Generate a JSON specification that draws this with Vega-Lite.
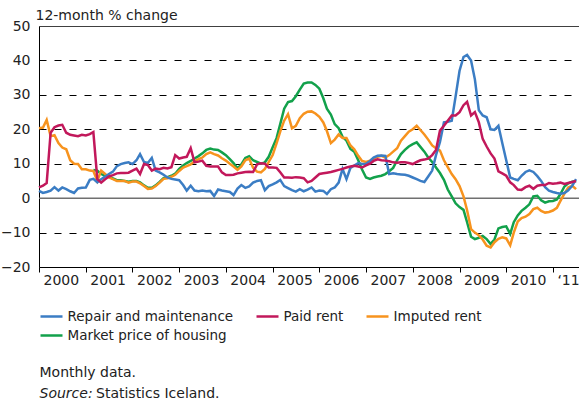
{
"$schema":"https://vega.github.io/schema/vega-lite/v6.json",
"width":540,"height":241,
"autosize":{"type":"none"},
"padding":{"left":39,"top":26,"right":0,"bottom":137},
"background":"white",
"config":{"view":{"stroke":null},"font":"DejaVu Sans",
 "axis":{"labelFont":"DejaVu Sans","titleFont":"DejaVu Sans","labelFontSize":14,"titleFontSize":14,"labelColor":"#222","titleColor":"#222","titleFontWeight":"normal"}},
"title":{"text":"Statistics Iceland.","orient":"bottom","anchor":"start","frame":"group","offset":0,"dx":57,"dy":-3,"baseline":"alphabetic","font":"DejaVu Sans","fontSize":14,"fontWeight":"normal","color":"#222"},
"data":{"values":[
{"s":"M","d":"2001-03","v":8.2},{"s":"M","d":"2001-04","v":8.0},{"s":"M","d":"2001-05","v":7.0},{"s":"M","d":"2001-06","v":6.5},{"s":"M","d":"2001-07","v":6.2},{"s":"M","d":"2001-08","v":5.7},{"s":"M","d":"2001-09","v":5.2},{"s":"M","d":"2001-10","v":5.2},{"s":"M","d":"2001-11","v":5.0},{"s":"M","d":"2001-12","v":4.8},
{"s":"M","d":"2002-01","v":5.0},{"s":"M","d":"2002-02","v":5.0},{"s":"M","d":"2002-03","v":4.6},{"s":"M","d":"2002-04","v":3.7},{"s":"M","d":"2002-05","v":3.0},{"s":"M","d":"2002-06","v":3.0},{"s":"M","d":"2002-07","v":3.7},{"s":"M","d":"2002-08","v":4.7},{"s":"M","d":"2002-09","v":5.8},{"s":"M","d":"2002-10","v":6.1},{"s":"M","d":"2002-11","v":6.5},{"s":"M","d":"2002-12","v":7.1},
{"s":"M","d":"2003-01","v":8.5},{"s":"M","d":"2003-02","v":9.5},{"s":"M","d":"2003-03","v":10.2},{"s":"M","d":"2003-04","v":10.8},{"s":"M","d":"2003-05","v":11.5},{"s":"M","d":"2003-06","v":12.2},{"s":"M","d":"2003-07","v":13.0},{"s":"M","d":"2003-08","v":14.0},{"s":"M","d":"2003-09","v":14.4},{"s":"M","d":"2003-10","v":14.1},{"s":"M","d":"2003-11","v":14.0},{"s":"M","d":"2003-12","v":13.3},
{"s":"M","d":"2004-01","v":12.5},{"s":"M","d":"2004-02","v":11.3},{"s":"M","d":"2004-03","v":10.2},{"s":"M","d":"2004-04","v":8.6},{"s":"M","d":"2004-05","v":9.8},{"s":"M","d":"2004-06","v":11.7},{"s":"M","d":"2004-07","v":12.2},{"s":"M","d":"2004-08","v":11.0},{"s":"M","d":"2004-09","v":10.5},{"s":"M","d":"2004-10","v":10.0},{"s":"M","d":"2004-11","v":10.4},{"s":"M","d":"2004-12","v":12.0},
{"s":"M","d":"2005-01","v":14.8},{"s":"M","d":"2005-02","v":17.5},{"s":"M","d":"2005-03","v":21.5},{"s":"M","d":"2005-04","v":26.0},{"s":"M","d":"2005-05","v":27.9},{"s":"M","d":"2005-06","v":28.2},{"s":"M","d":"2005-07","v":29.6},{"s":"M","d":"2005-08","v":31.5},{"s":"M","d":"2005-09","v":33.3},{"s":"M","d":"2005-10","v":33.6},{"s":"M","d":"2005-11","v":33.6},{"s":"M","d":"2005-12","v":32.9},
{"s":"M","d":"2006-01","v":31.8},{"s":"M","d":"2006-02","v":29.0},{"s":"M","d":"2006-03","v":26.0},{"s":"M","d":"2006-04","v":24.3},{"s":"M","d":"2006-05","v":21.5},{"s":"M","d":"2006-06","v":20.3},{"s":"M","d":"2006-07","v":17.8},{"s":"M","d":"2006-08","v":16.7},{"s":"M","d":"2006-09","v":14.3},{"s":"M","d":"2006-10","v":13.5},{"s":"M","d":"2006-11","v":11.0},{"s":"M","d":"2006-12","v":8.3},
{"s":"M","d":"2007-01","v":6.0},{"s":"M","d":"2007-02","v":5.6},{"s":"M","d":"2007-03","v":6.0},{"s":"M","d":"2007-04","v":6.3},{"s":"M","d":"2007-05","v":6.5},{"s":"M","d":"2007-06","v":7.0},{"s":"M","d":"2007-07","v":7.8},{"s":"M","d":"2007-08","v":8.8},{"s":"M","d":"2007-09","v":11.0},{"s":"M","d":"2007-10","v":12.8},{"s":"M","d":"2007-11","v":14.0},{"s":"M","d":"2007-12","v":15.0},
{"s":"M","d":"2008-01","v":15.7},{"s":"M","d":"2008-02","v":16.2},{"s":"M","d":"2008-03","v":14.9},{"s":"M","d":"2008-04","v":13.5},{"s":"M","d":"2008-05","v":11.8},{"s":"M","d":"2008-06","v":10.5},{"s":"M","d":"2008-07","v":8.9},{"s":"M","d":"2008-08","v":7.3},{"s":"M","d":"2008-09","v":5.3},{"s":"M","d":"2008-10","v":2.5},{"s":"M","d":"2008-11","v":0.5},{"s":"M","d":"2008-12","v":-1.5},
{"s":"M","d":"2009-01","v":-2.6},{"s":"M","d":"2009-02","v":-3.4},{"s":"M","d":"2009-03","v":-7.0},{"s":"M","d":"2009-04","v":-11.2},{"s":"M","d":"2009-05","v":-11.9},{"s":"M","d":"2009-06","v":-11.5},{"s":"M","d":"2009-07","v":-11.0},{"s":"M","d":"2009-08","v":-11.9},{"s":"M","d":"2009-09","v":-13.3},{"s":"M","d":"2009-10","v":-12.0},{"s":"M","d":"2009-11","v":-8.8},{"s":"M","d":"2009-12","v":-8.4},
{"s":"M","d":"2010-01","v":-8.2},{"s":"M","d":"2010-02","v":-10.4},{"s":"M","d":"2010-03","v":-7.0},{"s":"M","d":"2010-04","v":-5.0},{"s":"M","d":"2010-05","v":-3.7},{"s":"M","d":"2010-06","v":-2.8},{"s":"M","d":"2010-07","v":-1.8},{"s":"M","d":"2010-08","v":0.5},{"s":"M","d":"2010-09","v":0.7},{"s":"M","d":"2010-10","v":-0.6},{"s":"M","d":"2010-11","v":-1.3},{"s":"M","d":"2010-12","v":-0.9},
{"s":"M","d":"2011-01","v":-0.8},{"s":"M","d":"2011-02","v":-0.4},{"s":"M","d":"2011-03","v":1.2},{"s":"M","d":"2011-04","v":3.4},{"s":"M","d":"2011-05","v":4.3},{"s":"M","d":"2011-06","v":4.8},{"s":"M","d":"2011-07","v":5.0},
{"s":"I","d":"2000-01","v":20.3},{"s":"I","d":"2000-02","v":20.5},{"s":"I","d":"2000-03","v":22.7},{"s":"I","d":"2000-04","v":18.0},{"s":"I","d":"2000-05","v":18.3},{"s":"I","d":"2000-06","v":16.0},{"s":"I","d":"2000-07","v":14.7},{"s":"I","d":"2000-08","v":14.2},{"s":"I","d":"2000-09","v":11.0},{"s":"I","d":"2000-10","v":10.0},{"s":"I","d":"2000-11","v":9.9},{"s":"I","d":"2000-12","v":8.4},
{"s":"I","d":"2001-01","v":8.4},{"s":"I","d":"2001-02","v":8.0},{"s":"I","d":"2001-03","v":7.9},{"s":"I","d":"2001-04","v":5.0},{"s":"I","d":"2001-05","v":8.0},{"s":"I","d":"2001-06","v":7.0},{"s":"I","d":"2001-07","v":6.0},{"s":"I","d":"2001-08","v":5.5},{"s":"I","d":"2001-09","v":5.0},{"s":"I","d":"2001-10","v":5.0},{"s":"I","d":"2001-11","v":5.0},{"s":"I","d":"2001-12","v":4.5},
{"s":"I","d":"2002-01","v":4.8},{"s":"I","d":"2002-02","v":4.8},{"s":"I","d":"2002-03","v":4.3},{"s":"I","d":"2002-04","v":3.5},{"s":"I","d":"2002-05","v":2.7},{"s":"I","d":"2002-06","v":2.8},{"s":"I","d":"2002-07","v":3.5},{"s":"I","d":"2002-08","v":4.5},{"s":"I","d":"2002-09","v":5.6},{"s":"I","d":"2002-10","v":5.8},{"s":"I","d":"2002-11","v":6.2},{"s":"I","d":"2002-12","v":6.8},
{"s":"I","d":"2003-01","v":7.9},{"s":"I","d":"2003-02","v":8.9},{"s":"I","d":"2003-03","v":9.3},{"s":"I","d":"2003-04","v":9.8},{"s":"I","d":"2003-05","v":10.7},{"s":"I","d":"2003-06","v":11.3},{"s":"I","d":"2003-07","v":11.8},{"s":"I","d":"2003-08","v":12.8},{"s":"I","d":"2003-09","v":13.3},{"s":"I","d":"2003-10","v":12.8},{"s":"I","d":"2003-11","v":12.4},{"s":"I","d":"2003-12","v":11.6},
{"s":"I","d":"2004-01","v":10.9},{"s":"I","d":"2004-02","v":10.0},{"s":"I","d":"2004-03","v":9.2},{"s":"I","d":"2004-04","v":8.2},{"s":"I","d":"2004-05","v":9.2},{"s":"I","d":"2004-06","v":11.0},{"s":"I","d":"2004-07","v":11.5},{"s":"I","d":"2004-08","v":8.8},{"s":"I","d":"2004-09","v":7.7},{"s":"I","d":"2004-10","v":7.5},{"s":"I","d":"2004-11","v":8.5},{"s":"I","d":"2004-12","v":10.5},
{"s":"I","d":"2005-01","v":12.5},{"s":"I","d":"2005-02","v":16.0},{"s":"I","d":"2005-03","v":19.3},{"s":"I","d":"2005-04","v":22.5},{"s":"I","d":"2005-05","v":24.4},{"s":"I","d":"2005-06","v":20.3},{"s":"I","d":"2005-07","v":21.0},{"s":"I","d":"2005-08","v":23.2},{"s":"I","d":"2005-09","v":24.5},{"s":"I","d":"2005-10","v":25.1},{"s":"I","d":"2005-11","v":25.2},{"s":"I","d":"2005-12","v":24.6},
{"s":"I","d":"2006-01","v":23.6},{"s":"I","d":"2006-02","v":22.0},{"s":"I","d":"2006-03","v":19.5},{"s":"I","d":"2006-04","v":16.0},{"s":"I","d":"2006-05","v":17.0},{"s":"I","d":"2006-06","v":18.5},{"s":"I","d":"2006-07","v":17.5},{"s":"I","d":"2006-08","v":17.5},{"s":"I","d":"2006-09","v":15.3},{"s":"I","d":"2006-10","v":14.2},{"s":"I","d":"2006-11","v":12.3},{"s":"I","d":"2006-12","v":10.8},
{"s":"I","d":"2007-01","v":10.5},{"s":"I","d":"2007-02","v":10.9},{"s":"I","d":"2007-03","v":11.5},{"s":"I","d":"2007-04","v":12.0},{"s":"I","d":"2007-05","v":12.3},{"s":"I","d":"2007-06","v":11.8},{"s":"I","d":"2007-07","v":12.5},{"s":"I","d":"2007-08","v":13.5},{"s":"I","d":"2007-09","v":14.5},{"s":"I","d":"2007-10","v":16.7},{"s":"I","d":"2007-11","v":18.0},{"s":"I","d":"2007-12","v":19.3},
{"s":"I","d":"2008-01","v":20.0},{"s":"I","d":"2008-02","v":21.0},{"s":"I","d":"2008-03","v":19.8},{"s":"I","d":"2008-04","v":18.5},{"s":"I","d":"2008-05","v":17.0},{"s":"I","d":"2008-06","v":15.3},{"s":"I","d":"2008-07","v":14.5},{"s":"I","d":"2008-08","v":13.8},{"s":"I","d":"2008-09","v":11.0},{"s":"I","d":"2008-10","v":9.0},{"s":"I","d":"2008-11","v":7.0},{"s":"I","d":"2008-12","v":5.5},
{"s":"I","d":"2009-01","v":3.5},{"s":"I","d":"2009-02","v":0.5},{"s":"I","d":"2009-03","v":-3.5},{"s":"I","d":"2009-04","v":-9.0},{"s":"I","d":"2009-05","v":-10.0},{"s":"I","d":"2009-06","v":-10.8},{"s":"I","d":"2009-07","v":-12.0},{"s":"I","d":"2009-08","v":-13.8},{"s":"I","d":"2009-09","v":-14.3},{"s":"I","d":"2009-10","v":-12.8},{"s":"I","d":"2009-11","v":-11.8},{"s":"I","d":"2009-12","v":-11.4},
{"s":"I","d":"2010-01","v":-11.7},{"s":"I","d":"2010-02","v":-13.7},{"s":"I","d":"2010-03","v":-10.0},{"s":"I","d":"2010-04","v":-6.8},{"s":"I","d":"2010-05","v":-5.8},{"s":"I","d":"2010-06","v":-5.4},{"s":"I","d":"2010-07","v":-4.6},{"s":"I","d":"2010-08","v":-3.2},{"s":"I","d":"2010-09","v":-2.8},{"s":"I","d":"2010-10","v":-3.7},{"s":"I","d":"2010-11","v":-4.2},{"s":"I","d":"2010-12","v":-4.0},
{"s":"I","d":"2011-01","v":-3.6},{"s":"I","d":"2011-02","v":-2.8},{"s":"I","d":"2011-03","v":-0.8},{"s":"I","d":"2011-04","v":1.3},{"s":"I","d":"2011-05","v":3.1},{"s":"I","d":"2011-06","v":3.6},{"s":"I","d":"2011-07","v":2.6},
{"s":"R","d":"2000-01","v":2.1},{"s":"R","d":"2000-02","v":1.5},{"s":"R","d":"2000-03","v":1.8},{"s":"R","d":"2000-04","v":2.2},{"s":"R","d":"2000-05","v":3.2},{"s":"R","d":"2000-06","v":2.2},{"s":"R","d":"2000-07","v":3.1},{"s":"R","d":"2000-08","v":2.6},{"s":"R","d":"2000-09","v":2.0},{"s":"R","d":"2000-10","v":1.5},{"s":"R","d":"2000-11","v":2.8},{"s":"R","d":"2000-12","v":3.0},
{"s":"R","d":"2001-01","v":3.1},{"s":"R","d":"2001-02","v":5.3},{"s":"R","d":"2001-03","v":5.6},{"s":"R","d":"2001-04","v":4.6},{"s":"R","d":"2001-05","v":5.5},{"s":"R","d":"2001-06","v":6.3},{"s":"R","d":"2001-07","v":7.0},{"s":"R","d":"2001-08","v":7.7},{"s":"R","d":"2001-09","v":9.3},{"s":"R","d":"2001-10","v":9.9},{"s":"R","d":"2001-11","v":10.2},{"s":"R","d":"2001-12","v":10.4},
{"s":"R","d":"2002-01","v":9.9},{"s":"R","d":"2002-02","v":11.0},{"s":"R","d":"2002-03","v":12.8},{"s":"R","d":"2002-04","v":10.5},{"s":"R","d":"2002-05","v":10.2},{"s":"R","d":"2002-06","v":11.7},{"s":"R","d":"2002-07","v":8.0},{"s":"R","d":"2002-08","v":7.5},{"s":"R","d":"2002-09","v":6.8},{"s":"R","d":"2002-10","v":6.0},{"s":"R","d":"2002-11","v":5.6},{"s":"R","d":"2002-12","v":5.4},
{"s":"R","d":"2003-01","v":5.2},{"s":"R","d":"2003-02","v":3.8},{"s":"R","d":"2003-03","v":2.2},{"s":"R","d":"2003-04","v":3.6},{"s":"R","d":"2003-05","v":2.2},{"s":"R","d":"2003-06","v":2.0},{"s":"R","d":"2003-07","v":2.2},{"s":"R","d":"2003-08","v":2.0},{"s":"R","d":"2003-09","v":2.1},{"s":"R","d":"2003-10","v":0.6},{"s":"R","d":"2003-11","v":2.5},{"s":"R","d":"2003-12","v":2.2},
{"s":"R","d":"2004-01","v":2.0},{"s":"R","d":"2004-02","v":1.8},{"s":"R","d":"2004-03","v":0.9},{"s":"R","d":"2004-04","v":2.8},{"s":"R","d":"2004-05","v":3.8},{"s":"R","d":"2004-06","v":3.0},{"s":"R","d":"2004-07","v":3.4},{"s":"R","d":"2004-08","v":4.5},{"s":"R","d":"2004-09","v":5.0},{"s":"R","d":"2004-10","v":5.2},{"s":"R","d":"2004-11","v":2.3},{"s":"R","d":"2004-12","v":3.5},
{"s":"R","d":"2005-01","v":4.0},{"s":"R","d":"2005-02","v":4.6},{"s":"R","d":"2005-03","v":5.3},{"s":"R","d":"2005-04","v":3.5},{"s":"R","d":"2005-05","v":2.9},{"s":"R","d":"2005-06","v":2.3},{"s":"R","d":"2005-07","v":1.9},{"s":"R","d":"2005-08","v":2.6},{"s":"R","d":"2005-09","v":2.0},{"s":"R","d":"2005-10","v":2.5},{"s":"R","d":"2005-11","v":3.1},{"s":"R","d":"2005-12","v":1.9},
{"s":"R","d":"2006-01","v":2.2},{"s":"R","d":"2006-02","v":2.1},{"s":"R","d":"2006-03","v":1.2},{"s":"R","d":"2006-04","v":2.6},{"s":"R","d":"2006-05","v":3.1},{"s":"R","d":"2006-06","v":4.5},{"s":"R","d":"2006-07","v":8.5},{"s":"R","d":"2006-08","v":5.5},{"s":"R","d":"2006-09","v":8.8},{"s":"R","d":"2006-10","v":9.5},{"s":"R","d":"2006-11","v":10.2},{"s":"R","d":"2006-12","v":9.9},
{"s":"R","d":"2007-01","v":10.0},{"s":"R","d":"2007-02","v":10.8},{"s":"R","d":"2007-03","v":11.8},{"s":"R","d":"2007-04","v":12.3},{"s":"R","d":"2007-05","v":12.4},{"s":"R","d":"2007-06","v":12.3},{"s":"R","d":"2007-07","v":7.0},{"s":"R","d":"2007-08","v":7.2},{"s":"R","d":"2007-09","v":7.0},{"s":"R","d":"2007-10","v":6.9},{"s":"R","d":"2007-11","v":6.8},{"s":"R","d":"2007-12","v":6.5},
{"s":"R","d":"2008-01","v":6.0},{"s":"R","d":"2008-02","v":5.5},{"s":"R","d":"2008-03","v":5.0},{"s":"R","d":"2008-04","v":4.7},{"s":"R","d":"2008-05","v":6.3},{"s":"R","d":"2008-06","v":8.0},{"s":"R","d":"2008-07","v":12.5},{"s":"R","d":"2008-08","v":16.3},{"s":"R","d":"2008-09","v":22.0},{"s":"R","d":"2008-10","v":22.2},{"s":"R","d":"2008-11","v":22.5},{"s":"R","d":"2008-12","v":29.5},
{"s":"R","d":"2009-01","v":37.0},{"s":"R","d":"2009-02","v":41.0},{"s":"R","d":"2009-03","v":41.6},{"s":"R","d":"2009-04","v":40.0},{"s":"R","d":"2009-05","v":34.5},{"s":"R","d":"2009-06","v":25.5},{"s":"R","d":"2009-07","v":24.0},{"s":"R","d":"2009-08","v":23.5},{"s":"R","d":"2009-09","v":20.0},{"s":"R","d":"2009-10","v":19.8},{"s":"R","d":"2009-11","v":21.0},{"s":"R","d":"2009-12","v":16.0},
{"s":"R","d":"2010-01","v":11.0},{"s":"R","d":"2010-02","v":6.0},{"s":"R","d":"2010-03","v":5.6},{"s":"R","d":"2010-04","v":5.2},{"s":"R","d":"2010-05","v":6.5},{"s":"R","d":"2010-06","v":7.6},{"s":"R","d":"2010-07","v":8.1},{"s":"R","d":"2010-08","v":7.6},{"s":"R","d":"2010-09","v":6.4},{"s":"R","d":"2010-10","v":5.0},{"s":"R","d":"2010-11","v":3.2},{"s":"R","d":"2010-12","v":2.2},
{"s":"R","d":"2011-01","v":1.8},{"s":"R","d":"2011-02","v":1.5},{"s":"R","d":"2011-03","v":1.3},{"s":"R","d":"2011-04","v":1.5},{"s":"R","d":"2011-05","v":2.3},{"s":"R","d":"2011-06","v":3.6},{"s":"R","d":"2011-07","v":5.5},
{"s":"P","d":"2000-01","v":3.1},{"s":"P","d":"2000-02","v":3.6},{"s":"P","d":"2000-03","v":4.4},{"s":"P","d":"2000-04","v":19.0},{"s":"P","d":"2000-05","v":20.6},{"s":"P","d":"2000-06","v":21.1},{"s":"P","d":"2000-07","v":21.3},{"s":"P","d":"2000-08","v":19.0},{"s":"P","d":"2000-09","v":18.4},{"s":"P","d":"2000-10","v":18.2},{"s":"P","d":"2000-11","v":18.0},{"s":"P","d":"2000-12","v":18.4},
{"s":"P","d":"2001-01","v":18.2},{"s":"P","d":"2001-02","v":18.6},{"s":"P","d":"2001-03","v":19.2},{"s":"P","d":"2001-04","v":5.5},{"s":"P","d":"2001-05","v":4.5},{"s":"P","d":"2001-06","v":5.5},{"s":"P","d":"2001-07","v":6.3},{"s":"P","d":"2001-08","v":6.7},{"s":"P","d":"2001-09","v":7.2},{"s":"P","d":"2001-10","v":7.3},{"s":"P","d":"2001-11","v":7.3},{"s":"P","d":"2001-12","v":7.4},
{"s":"P","d":"2002-01","v":8.0},{"s":"P","d":"2002-02","v":8.6},{"s":"P","d":"2002-03","v":7.0},{"s":"P","d":"2002-04","v":9.9},{"s":"P","d":"2002-05","v":9.6},{"s":"P","d":"2002-06","v":8.0},{"s":"P","d":"2002-07","v":8.6},{"s":"P","d":"2002-08","v":8.4},{"s":"P","d":"2002-09","v":8.8},{"s":"P","d":"2002-10","v":8.6},{"s":"P","d":"2002-11","v":9.0},{"s":"P","d":"2002-12","v":12.5},
{"s":"P","d":"2003-01","v":11.5},{"s":"P","d":"2003-02","v":11.8},{"s":"P","d":"2003-03","v":12.0},{"s":"P","d":"2003-04","v":14.5},{"s":"P","d":"2003-05","v":10.4},{"s":"P","d":"2003-06","v":10.6},{"s":"P","d":"2003-07","v":10.9},{"s":"P","d":"2003-08","v":9.4},{"s":"P","d":"2003-09","v":9.2},{"s":"P","d":"2003-10","v":9.2},{"s":"P","d":"2003-11","v":9.2},{"s":"P","d":"2003-12","v":7.5},
{"s":"P","d":"2004-01","v":6.7},{"s":"P","d":"2004-02","v":6.7},{"s":"P","d":"2004-03","v":6.8},{"s":"P","d":"2004-04","v":7.2},{"s":"P","d":"2004-05","v":7.4},{"s":"P","d":"2004-06","v":7.6},{"s":"P","d":"2004-07","v":7.7},{"s":"P","d":"2004-08","v":7.6},{"s":"P","d":"2004-09","v":9.8},{"s":"P","d":"2004-10","v":10.1},{"s":"P","d":"2004-11","v":10.0},{"s":"P","d":"2004-12","v":8.9},
{"s":"P","d":"2005-01","v":8.9},{"s":"P","d":"2005-02","v":8.8},{"s":"P","d":"2005-03","v":7.5},{"s":"P","d":"2005-04","v":6.0},{"s":"P","d":"2005-05","v":6.0},{"s":"P","d":"2005-06","v":5.9},{"s":"P","d":"2005-07","v":6.1},{"s":"P","d":"2005-08","v":6.0},{"s":"P","d":"2005-09","v":5.8},{"s":"P","d":"2005-10","v":4.6},{"s":"P","d":"2005-11","v":5.0},{"s":"P","d":"2005-12","v":6.0},
{"s":"P","d":"2006-01","v":7.0},{"s":"P","d":"2006-02","v":7.2},{"s":"P","d":"2006-03","v":7.4},{"s":"P","d":"2006-04","v":7.6},{"s":"P","d":"2006-05","v":7.9},{"s":"P","d":"2006-06","v":8.2},{"s":"P","d":"2006-07","v":8.5},{"s":"P","d":"2006-08","v":8.9},{"s":"P","d":"2006-09","v":9.2},{"s":"P","d":"2006-10","v":9.4},{"s":"P","d":"2006-11","v":9.2},{"s":"P","d":"2006-12","v":8.9},
{"s":"P","d":"2007-01","v":9.5},{"s":"P","d":"2007-02","v":10.0},{"s":"P","d":"2007-03","v":10.8},{"s":"P","d":"2007-04","v":11.3},{"s":"P","d":"2007-05","v":11.0},{"s":"P","d":"2007-06","v":10.9},{"s":"P","d":"2007-07","v":10.7},{"s":"P","d":"2007-08","v":10.4},{"s":"P","d":"2007-09","v":10.3},{"s":"P","d":"2007-10","v":10.4},{"s":"P","d":"2007-11","v":10.4},{"s":"P","d":"2007-12","v":10.2},
{"s":"P","d":"2008-01","v":9.9},{"s":"P","d":"2008-02","v":10.5},{"s":"P","d":"2008-03","v":11.0},{"s":"P","d":"2008-04","v":11.2},{"s":"P","d":"2008-05","v":11.5},{"s":"P","d":"2008-06","v":12.5},{"s":"P","d":"2008-07","v":14.0},{"s":"P","d":"2008-08","v":19.6},{"s":"P","d":"2008-09","v":21.0},{"s":"P","d":"2008-10","v":22.5},{"s":"P","d":"2008-11","v":24.0},{"s":"P","d":"2008-12","v":24.0},
{"s":"P","d":"2009-01","v":25.0},{"s":"P","d":"2009-02","v":27.0},{"s":"P","d":"2009-03","v":28.0},{"s":"P","d":"2009-04","v":24.0},{"s":"P","d":"2009-05","v":25.0},{"s":"P","d":"2009-06","v":22.0},{"s":"P","d":"2009-07","v":17.2},{"s":"P","d":"2009-08","v":15.0},{"s":"P","d":"2009-09","v":13.0},{"s":"P","d":"2009-10","v":11.5},{"s":"P","d":"2009-11","v":7.8},{"s":"P","d":"2009-12","v":7.2},
{"s":"P","d":"2010-01","v":6.5},{"s":"P","d":"2010-02","v":4.6},{"s":"P","d":"2010-03","v":3.8},{"s":"P","d":"2010-04","v":2.5},{"s":"P","d":"2010-05","v":2.4},{"s":"P","d":"2010-06","v":3.2},{"s":"P","d":"2010-07","v":3.6},{"s":"P","d":"2010-08","v":2.7},{"s":"P","d":"2010-09","v":3.6},{"s":"P","d":"2010-10","v":3.8},{"s":"P","d":"2010-11","v":3.8},{"s":"P","d":"2010-12","v":4.4},
{"s":"P","d":"2011-01","v":4.2},{"s":"P","d":"2011-02","v":4.3},{"s":"P","d":"2011-03","v":4.5},{"s":"P","d":"2011-04","v":4.1},{"s":"P","d":"2011-05","v":4.4},{"s":"P","d":"2011-06","v":4.7},{"s":"P","d":"2011-07","v":5.0}
]},
"layer":[
 {"data":{"values":[{"z":0}]},
  "mark":{"type":"rule","color":"#707070","strokeWidth":1.5},
  "encoding":{"y":{"field":"z","type":"quantitative","scale":{"domain":[-20,50],"nice":false,"zero":false},
    "axis":{"orient":"right","title":"Source:","titleFontStyle":"italic","labels":false,"ticks":false,"domain":false,"grid":false,"titleAngle":0,"titleX":-540,"titleY":371.5,"titleAlign":"left","titleBaseline":"alphabetic"}}}},
 {"mark":{"type":"line","strokeWidth":2.5},
  "encoding":{
   "x":{"field":"d","type":"temporal","scale":{"type":"utc","domain":[{"year":2000,"month":1,"date":1,"utc":true},{"year":2011,"month":7,"date":24,"utc":true}]},
    "axis":{"title":"Monthly data.","titleX":0,"titleY":109.5,"titleAlign":"left","titleBaseline":"alphabetic","tickCount":{"interval":"year","step":1},"labelExpr":"utcyear(datum.value) == 2011 ? '‘11' : utcFormat(datum.value, '%Y')","labelAlign":"left","labelBaseline":"top","labelOffset":4,"labelPadding":1,"tickSize":5,"tickColor":"#000","domainColor":"#000","grid":false,"labelFlush":false,"labelOverlap":false,"labelBound":false}},
   "y":{"field":"v","type":"quantitative","scale":{"domain":[-20,50],"nice":false,"zero":false},
    "axis":{"orient":"left","values":[-20,-10,0,10,20,30,40,50],"title":"12-month % change","titleAngle":0,"titleX":-4,"titleY":-7,"titleAlign":"left","titleBaseline":"alphabetic","ticks":false,"tickSize":0,"labelPadding":9,"domainColor":"#000","grid":true,"gridColor":"#000","gridWidth":1,
     "gridDash":{"condition":{"test":"datum.value === 50","value":[1,0]},"value":[7,8]},
     "gridOpacity":{"condition":{"test":"datum.value === 0","value":0},"value":1}}},
   "color":{"field":"s","type":"nominal","scale":{"domain":["R","P","I","M"],"range":["#3b7dc4","#c2185b","#f7931e","#12a14b"]},
    "legend":{"orient":"none","legendX":0,"legendY":278,"direction":"horizontal","columns":3,"title":null,"symbolType":"stroke","symbolSize":484,"symbolStrokeWidth":2.5,"labelFontSize":13.5,"labelFont":"DejaVu Sans","labelColor":"#222","labelLimit":300,"labelOffset":3.5,"columnPadding":17,"rowPadding":0,"padding":0,
     "labelExpr":"datum.label == 'R' ? 'Repair and maintenance' : datum.label == 'P' ? 'Paid rent' : datum.label == 'I' ? 'Imputed rent' : 'Market price of housing'"}}
  }}
],
"resolve":{"axis":{"y":"independent"}}
}
